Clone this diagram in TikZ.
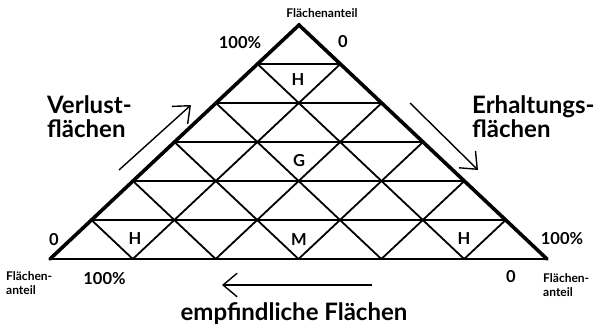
\documentclass[tikz,border=0pt]{standalone}
\usepackage{fontspec}
\setmainfont{Lato}
\usetikzlibrary{calc,arrows.meta}

\tikzset{
  side/.style={line width=3.6pt,line cap=round,line join=miter},
  grid/.style={line width=1.8pt},
  arr/.style={line width=1.4pt,-{Straight Barb[angle'=80,length=14pt]}},
  big/.style={font=\bfseries\fontsize{24}{24}\selectfont,inner sep=0pt},
  num/.style={font=\bfseries\fontsize{16.5}{18}\selectfont,inner sep=0pt},
  cell/.style={font=\bfseries\fontsize{16.5}{18}\selectfont,inner sep=0pt},
  small/.style={font=\bfseries\fontsize{12}{14.5}\selectfont,inner sep=0pt}
}

\begin{document}
\begin{tikzpicture}[x=1pt,y=-1pt]
  \useasboundingbox (0,0) rectangle (599,330);
  \coordinate (A) at (50,259); \coordinate (B) at (547,259); \coordinate (C) at (299,25);
  % lattice
  \foreach \i in {1,...,5} {
    \draw[grid] ($(A)!\i/6!(C)$) -- ($(B)!\i/6!(C)$);
    \draw[grid] ($(A)!\i/6!(B)$) -- ($(B)!{(6-\i)/6}!(C)$);
    \draw[grid] ($(A)!\i/6!(B)$) -- ($(A)!\i/6!(C)$);
  }
  \draw[line width=2.8pt] (A) -- (B); \draw[side] (A) -- (C) -- (B);
  \node[cell] (hTop) at (298,80) {H}; \node[cell] (g) at (299,161) {G};
  \node[cell] (hLeft) at (135,239) {H}; \node[cell] (m) at (299,240) {M}; \node[cell] (hRight) at (464,239) {H};
  \node[small,anchor=base] (flTop) at (322,17) {Flächenanteil};
  \node[num,anchor=base] (topHundred) at (240,48) {100\%}; \node[num,anchor=base] (topZero) at (343,47) {0};
  \node[num,anchor=base] (leftZero) at (54,245) {0}; \node[num,anchor=base] (rightHundred) at (562,244) {100\%};
  \node[num,anchor=base] (botHundred) at (104.5,284) {100\%}; \node[num,anchor=base] (botZero) at (511,282) {0};
  \node[small,align=left,anchor=north west] (flLeft) at (6,271) {Flächen-\\anteil};
  \node[small,align=left,anchor=north west] (flRight) at (543,273) {Flächen-\\anteil};
  \node[big,align=left,anchor=north west] (verlust) at (47,95) {Verlust-\\flächen};
  \node[big,align=left,anchor=north west] (erhalt) at (472,95) {Erhaltungs-\\flächen};
  \node[big,anchor=base] (empf) at (294,320) {empfindliche Flächen};
  % arrows
  \coordinate (v1) at (119,170); \coordinate (v2) at (191,105);
  \coordinate (e1) at (410,103); \coordinate (e2) at (478,170);
  \coordinate (b1) at (372,285); \coordinate (b2) at (222,285);
  \draw[arr] (v1) -- (v2); \draw[arr] (e1) -- (e2); \draw[arr] (b1) -- (b2);
\end{tikzpicture}
\end{document}
